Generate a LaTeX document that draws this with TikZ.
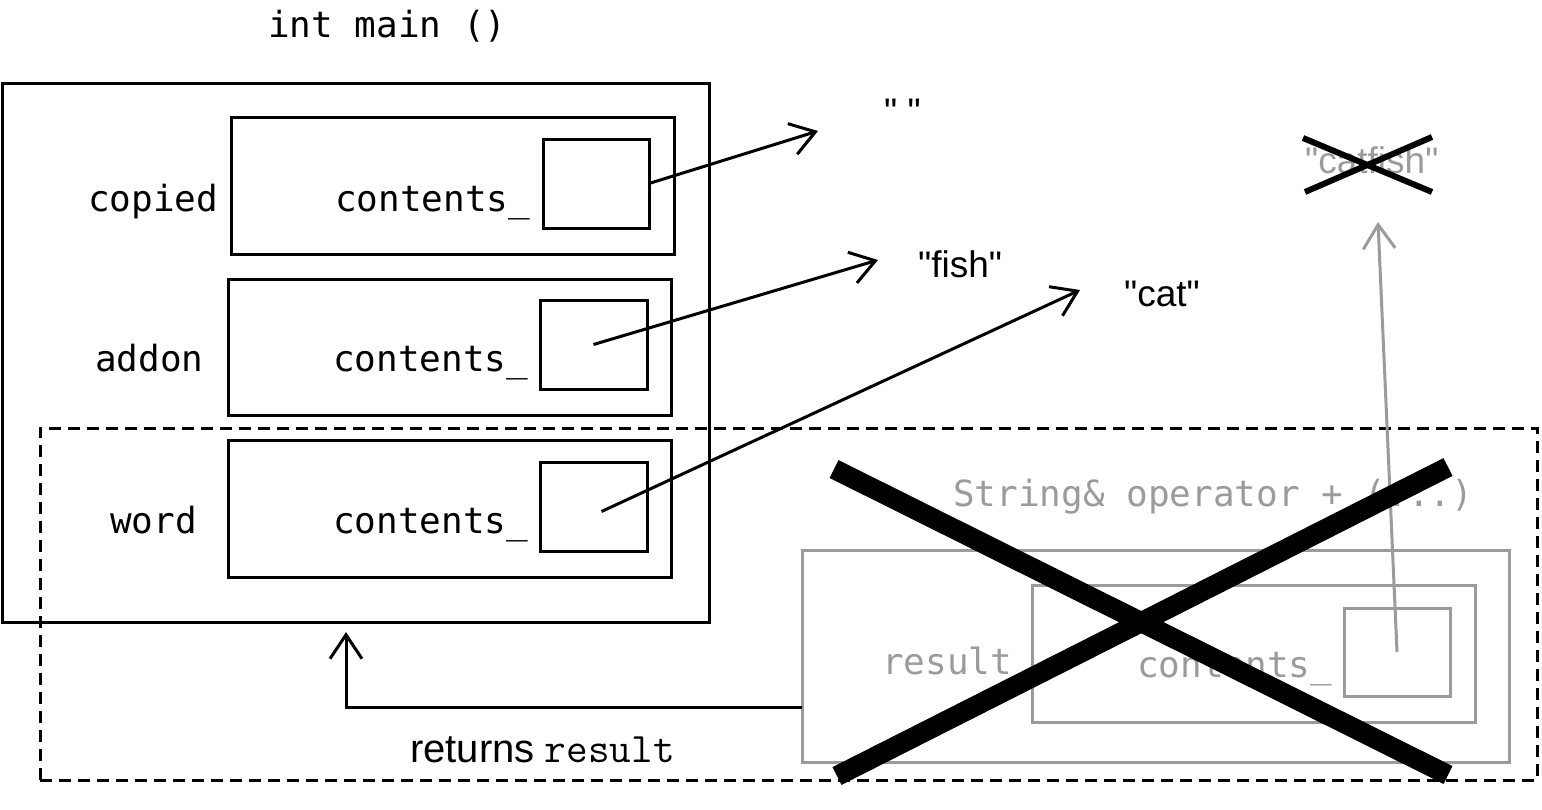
\documentclass[tikz,border=0pt]{standalone}
\usepackage{fontspec}
\setmainfont{Liberation Sans}
\newfontfamily\strfont{Liberation Sans}
\newfontfamily\cmono{DejaVu Sans Mono}
\usetikzlibrary{arrows.meta,calc}
\definecolor{gry}{RGB}{155,155,155}
\begin{document}
\begin{tikzpicture}[x=1pt,y=-1pt,
 box/.style={draw, line width=3pt, inner sep=0pt, outer sep=0pt, anchor=north west},
 code/.style={font=\cmono\fontsize{36}{40}\selectfont, inner sep=0pt, anchor=base west},
 str/.style={font=\strfont\fontsize{37}{40}\selectfont, inner sep=0pt, anchor=base west},
 ptr/.style={line width=3pt, -{Straight Barb[length=24pt,width=32pt,line width=3pt]}},
 cross/.style={line width=#1},
]
\useasboundingbox (0,0) rectangle (1542,809);
% main frame
\node[box, minimum width=707pt, minimum height=539pt] (main) at (2,83) {};
\node[code] (title) at (268,37) {int main ()};
% copied
\node[box, minimum width=443pt, minimum height=137pt] (copied) at (231,117) {};
\node[box, minimum width=106pt, minimum height=89pt] (sq1) at (543,139) {};
\node[code] (lc) at (88,211) {copied};
\node[code] (cc) at (335,211) {contents\_};
% addon
\node[box, minimum width=443pt, minimum height=136pt] (addon) at (228,279) {};
\node[box, minimum width=107pt, minimum height=89pt] (sq2) at (540,300) {};
\node[code] (la) at (95,371) {addon};
\node[code] (ca) at (333,371) {contents\_};
% word
\node[box, minimum width=443pt, minimum height=137pt] (word) at (228,440) {};
\node[box, minimum width=107pt, minimum height=89pt] (sq3) at (540,462) {};
\node[code] (lw) at (110,533) {word};
\node[code] (cw) at (333,533) {contents\_};
% strings
\node[str] (s0) at (884,124) {" "};
\node[str] (s1) at (918,277) {"fish"};
\node[str] (s2) at (1124,306) {"cat"};
\node[str, text=gry] (s3) at (1305,173) {"catfish"};
\coordinate (e0) at (818,131);
\coordinate (e1) at (878,260);
\coordinate (e2) at (1080,290);
\coordinate (e3) at (1378,222);
% operator frame
\node[box, dash pattern=on 12pt off 7pt, minimum width=1497pt, minimum height=352pt] (frame) at (40,428) {};
\node[code, text=gry] (op) at (953,506) {String\& operator + (...)};
\node[box, draw=gry, minimum width=707pt, minimum height=212pt] (resbox) at (802,550) {};
\node[box, draw=gry, minimum width=443pt, minimum height=137pt] (resin) at (1032,585) {};
\node[box, draw=gry, minimum width=106pt, minimum height=88pt] (sq4) at (1344,608) {};
\node[code, text=gry] (lr) at (882,674) {result};
\node[code, text=gry] (cr) at (1137,677) {contents\_};
% pointers
\draw[ptr] (sq1.east) -- (e0);
\draw[ptr] (sq2.center) -- (e1);
\draw[ptr] ($(sq3.center)+(8,5)$) -- (e2);
\draw[ptr, draw=gry] (sq4.center) -- (e3);
% return
\coordinate (rs) at (802,707);
\coordinate (rt) at (346,632);
\draw[ptr] (rs) -| (rt);
\node[str] (ret) at (410,762) {{\fontsize{40}{44}\selectfont returns} {\ttfamily\fontsize{42}{46}\selectfont result}};
% crosses
\draw[cross=6pt] (1303,138) -- (1432,192);
\draw[cross=6pt] (1305,192) -- (1432,137);
\draw[cross=20pt] (834,469) -- (1448,775);
\draw[cross=20pt] (837,776) -- (1448,467);
\end{tikzpicture}
\end{document}
